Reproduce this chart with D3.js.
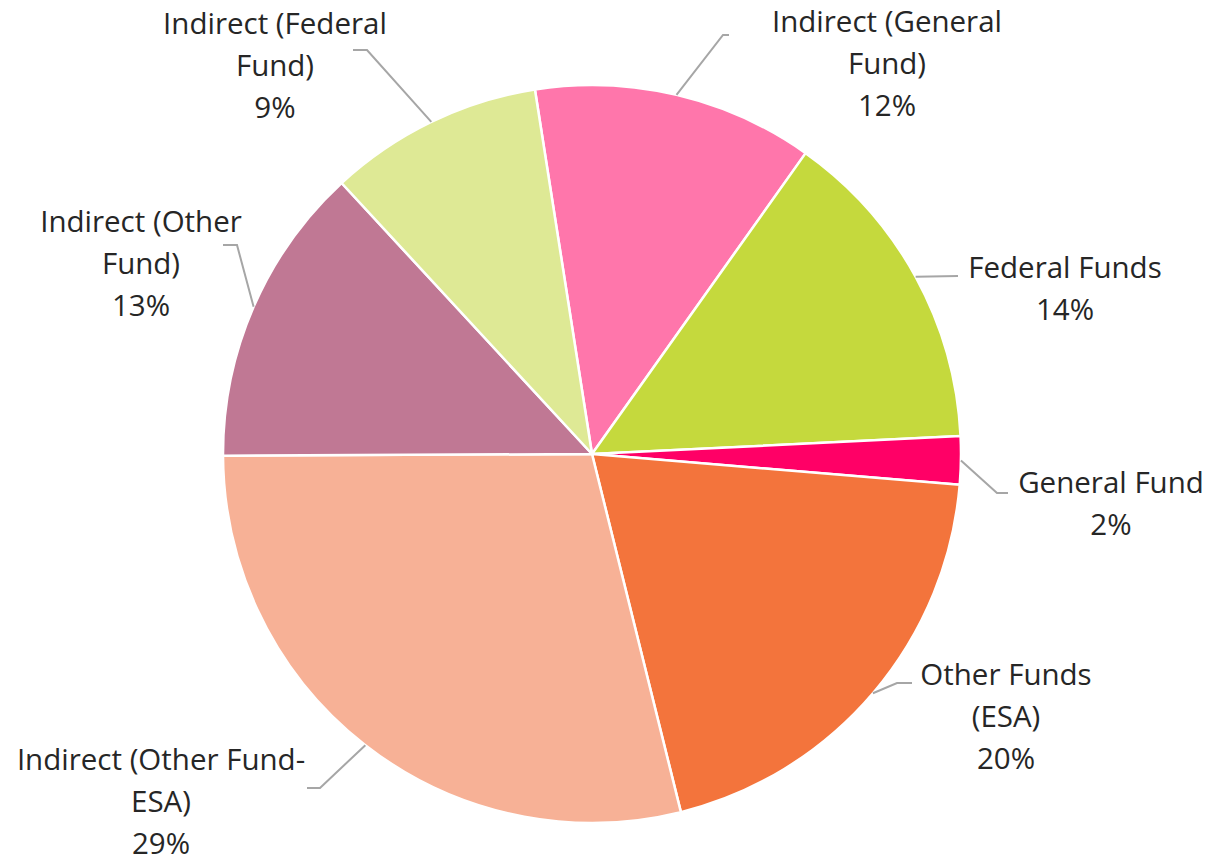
<!DOCTYPE html>
<html>
<head>
<meta charset="utf-8">
<script src="https://cdn.jsdelivr.net/npm/d3@7"></script>
<style>
  html, body { margin: 0; padding: 0; background: #fff; }
  svg { display: block; }
</style>
</head>
<body>
<svg id="chart" width="1209" height="861"></svg>
<script>
// ---- data ----
const categories = [
  "Indirect (General\nFund)",
  "Federal Funds",
  "General Fund",
  "Other Funds\n(ESA)",
  "Indirect (Other Fund-\nESA)",
  "Indirect (Other\nFund)",
  "Indirect (Federal\nFund)"
];
const values = [12.3, 14.4, 2.1, 19.8, 28.8, 13.2, 9.4];
const colors = ["#FF76AB", "#C5D93D", "#FF0066", "#F3743C", "#F7B196", "#C07894", "#DEE995"];

// ---- layout ----
const W = 1209, H = 861;
const cx = 592, cy = 454, R = 369;
const startDeg = -8.9;
// label text centre x, first-line centre y, leader elbow and end points
const labelLayout = [
  { x: 887, y: 21,  elbow: [723, 35],  end: [729, 35] },
  { x: 1065, y: 267, elbow: [958, 276], end: [958, 276] },
  { x: 1111, y: 482, elbow: [997, 493], end: [1008, 493] },
  { x: 1006, y: 674, elbow: [897, 683], end: [912, 683] },
  { x: 161, y: 759, elbow: [320, 788], end: [307, 788] },
  { x: 141, y: 221, elbow: [237, 245], end: [223, 245] },
  { x: 275, y: 23,  elbow: [367, 50],  end: [353, 50] }
];

const svg = d3.select("#chart");
const total = d3.sum(values);
const data = categories.map((c, i) => ({ name: c, value: values[i], color: colors[i], i }));

const pie = d3.pie()
  .value(d => d.value)
  .sort(null)
  .startAngle(startDeg * Math.PI / 180)
  .endAngle((startDeg + 360) * Math.PI / 180);
const arcs = pie(data);
const arc = d3.arc().innerRadius(0).outerRadius(R);

const g = svg.append("g").attr("transform", `translate(${cx},${cy})`);
g.selectAll("path.slice")
  .data(arcs)
  .enter().append("path")
  .attr("class", "slice")
  .attr("d", arc)
  .attr("fill", d => d.data.color)
  .attr("stroke", "#ffffff")
  .attr("stroke-width", 2.5)
  .attr("stroke-linejoin", "round");

// leader lines
const line = d3.line();
arcs.forEach((a, i) => {
  const mid = (a.startAngle + a.endAngle) / 2;
  const p0 = [cx + R * Math.sin(mid), cy - R * Math.cos(mid)];
  const L = labelLayout[i];
  svg.append("path")
    .attr("d", line([p0, L.elbow, L.end]))
    .attr("fill", "none")
    .attr("stroke", "#A6A6A6")
    .attr("stroke-width", 2);
});

// labels
const fmt = v => Math.round(v / total * 100) + "%";
arcs.forEach((a, i) => {
  const L = labelLayout[i];
  const lines = a.data.name.split("\n").concat([fmt(a.data.value)]);
  const t = svg.append("text")
    .attr("x", L.x)
    .attr("y", L.y + 10.5)
    .attr("text-anchor", "middle")
    .attr("font-family", "'Open Sans', Lato, sans-serif")
    .attr("font-size", 29.5)
    .attr("fill", "#262626");
  lines.forEach((s, k) => {
    t.append("tspan").attr("x", L.x).attr("dy", k === 0 ? 0 : 42).text(s);
  });
});
</script>
</body>
</html>
